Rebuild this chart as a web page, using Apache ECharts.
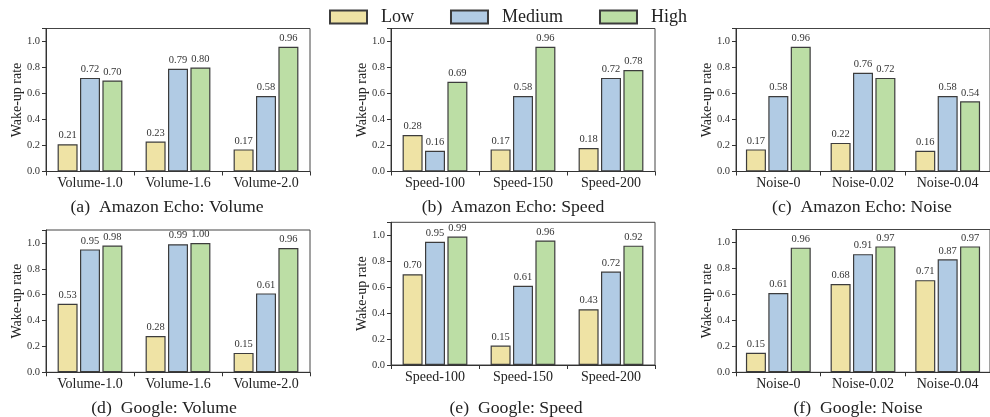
<!DOCTYPE html>
<html>
<head>
<meta charset="utf-8">
<script src="https://cdn.jsdelivr.net/npm/echarts@6/dist/echarts.min.js"></script>
<style>
  html, body { margin: 0; padding: 0; background: #fff; }
  #chart { width: 990px; height: 417px; }
</style>
</head>
<body>
<div id="chart"></div>
<script>
// Wake-up rate per condition, Low / Medium / High
const levels = ['Low', 'Medium', 'High'];

const volumeCats = ['Volume-1.0', 'Volume-1.6', 'Volume-2.0'];
const speedCats = ['Speed-100', 'Speed-150', 'Speed-200'];
const noiseCats = ['Noise-0', 'Noise-0.02', 'Noise-0.04'];

const echoVolumeLow = [0.21, 0.23, 0.17];
const echoVolumeMedium = [0.72, 0.79, 0.58];
const echoVolumeHigh = [0.70, 0.80, 0.96];

const echoSpeedLow = [0.28, 0.17, 0.18];
const echoSpeedMedium = [0.16, 0.58, 0.72];
const echoSpeedHigh = [0.69, 0.96, 0.78];

const echoNoiseLow = [0.17, 0.22, 0.16];
const echoNoiseMedium = [0.58, 0.76, 0.58];
const echoNoiseHigh = [0.96, 0.72, 0.54];

const googleVolumeLow = [0.53, 0.28, 0.15];
const googleVolumeMedium = [0.95, 0.99, 0.61];
const googleVolumeHigh = [0.98, 1.00, 0.96];

const googleSpeedLow = [0.70, 0.15, 0.43];
const googleSpeedMedium = [0.95, 0.61, 0.72];
const googleSpeedHigh = [0.99, 0.96, 0.92];

const googleNoiseLow = [0.15, 0.68, 0.71];
const googleNoiseMedium = [0.61, 0.91, 0.87];
const googleNoiseHigh = [0.96, 0.97, 0.97];

const yTicks = [0.0, 0.2, 0.4, 0.6, 0.8, 1.0];

const captions = [
  '(a)  Amazon Echo: Volume',
  '(b)  Amazon Echo: Speed',
  '(c)  Amazon Echo: Noise',
  '(d)  Google: Volume',
  '(e)  Google: Speed',
  '(f)  Google: Noise'
];

const panels = [
  { cats: volumeCats, vals: [echoVolumeLow, echoVolumeMedium, echoVolumeHigh] },
  { cats: speedCats, vals: [echoSpeedLow, echoSpeedMedium, echoSpeedHigh] },
  { cats: noiseCats, vals: [echoNoiseLow, echoNoiseMedium, echoNoiseHigh] },
  { cats: volumeCats, vals: [googleVolumeLow, googleVolumeMedium, googleVolumeHigh] },
  { cats: speedCats, vals: [googleSpeedLow, googleSpeedMedium, googleSpeedHigh] },
  { cats: noiseCats, vals: [googleNoiseLow, googleNoiseMedium, googleNoiseHigh] }
];

// layout of the six plot boxes
const boxes = [
  { left: 46, top: 28.5, width: 264, height: 143 },
  { left: 391, top: 28.5, width: 264, height: 143 },
  { left: 736, top: 28.5, width: 264, height: 143 },
  { left: 46, top: 230, width: 264, height: 142.3 },
  { left: 391, top: 222.3, width: 264, height: 142.7 },
  { left: 736, top: 229.5, width: 264, height: 142.8 }
];
const captionPos = [
  { x: 162, y: 203 }, { x: 508, y: 203 }, { x: 857, y: 203 },
  { x: 159, y: 404.5 }, { x: 511, y: 404.5 }, { x: 853, y: 404.5 }
];

const fills = ['#efe3a5', '#b1cbe4', '#bcdea5'];
const edge = '#3c3c3c';
const serif = '"Liberation Serif", "DejaVu Serif", serif';
const ink = '#222';

const grids = [], xAxes = [], yAxes = [], series = [], titles = [];

panels.forEach((p, i) => {
  grids.push(Object.assign({ show: true, borderColor: '#444', borderWidth: 1, backgroundColor: 'transparent' }, boxes[i]));
  xAxes.push({
    type: 'category', gridIndex: i, data: p.cats,
    axisLine: { show: true, lineStyle: { color: '#333', width: 1 } },
    axisTick: { show: true, length: 4, lineStyle: { color: '#333' } },
    axisLabel: { fontFamily: serif, fontSize: 14, color: ink, margin: 5 }
  });
  yAxes.push({
    type: 'value', gridIndex: i, min: 0, max: 1.1, interval: 0.2,
    name: 'Wake-up rate', nameLocation: 'middle', nameGap: 22,
    nameMoveOverlap: false,
    nameTextStyle: { fontFamily: serif, fontSize: 14, color: ink },
    splitLine: { show: false },
    axisLine: { show: true, lineStyle: { color: '#333', width: 1 } },
    axisTick: { show: true, length: 4, lineStyle: { color: '#333' } },
    axisLabel: {
      fontFamily: serif, fontSize: 10.5, color: '#333', margin: 6,
      formatter: v => (yTicks.some(t => Math.abs(t - v) < 1e-6) ? v.toFixed(1) : '')
    }
  });
  p.vals.forEach((vals, k) => {
    series.push({
      type: 'bar', name: levels[k], xAxisIndex: i, yAxisIndex: i,
      data: vals, barWidth: 20, barGap: '12%',
      itemStyle: { color: fills[k], borderColor: edge, borderWidth: 1.2 },
      label: {
        show: true, position: 'top', distance: 3,
        fontFamily: serif, fontSize: 10.5, color: '#333',
        formatter: d => d.value.toFixed(2)
      },
      emphasis: { disabled: true }
    });
  });
  titles.push({
    text: captions[i], left: captionPos[i].x, top: captionPos[i].y - 10,
    textAlign: 'center',
    textStyle: { fontFamily: serif, fontSize: 17.7, fontWeight: 'normal', color: ink }
  });
});

const chart = echarts.init(document.getElementById('chart'), null, { renderer: 'canvas' });
chart.setOption({
  animation: false,
  backgroundColor: '#fff',
  title: titles,
  legend: {
    data: levels, left: 324, top: 3, icon: 'rect',
    itemWidth: 37, itemHeight: 13, itemGap: 36,
    textStyle: { fontFamily: serif, fontSize: 18, color: ink, padding: [0, 0, 0, 9] }
  },
  grid: grids,
  xAxis: xAxes,
  yAxis: yAxes,
  series: series
});
</script>
</body>
</html>
